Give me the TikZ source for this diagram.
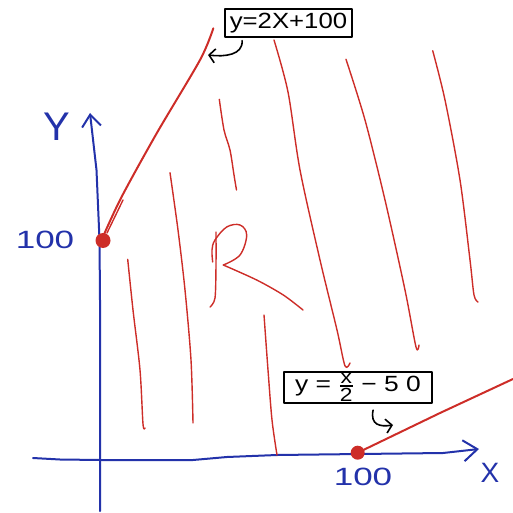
\documentclass[tikz,border=0pt]{standalone}
\usepackage{fontspec}
\setmainfont{Liberation Sans}
\usetikzlibrary{arrows.meta}
\definecolor{pen}{RGB}{35,50,170}
\definecolor{ink}{RGB}{205,45,40}
\begin{document}
\begin{tikzpicture}[x=1pt,y=-1pt, line cap=round, line join=round,
  axis/.style={draw=pen, line width=2pt},
  hatch/.style={draw=ink, line width=1.4pt},
  bound/.style={draw=ink, line width=2pt},
  lbl/.style={text=pen, inner sep=0pt},
  eqbox/.style={draw=black, line width=1.8pt, inner sep=0pt, fill=white},
  dot/.style={circle, fill=ink, minimum size=15pt, inner sep=0pt},
  callout/.style={draw=black, line width=1.6pt, -{Straight Barb[length=6pt,width=14pt]}}]
\useasboundingbox (0,0) rectangle (513,513);

% axes
\draw[axis, -{Straight Barb[length=12pt,width=19pt]}] (100,511) -- (100,300) -- (99.5,240) -- (96.5,170) -- (90,113);
\draw[axis, -{Straight Barb[length=14pt,width=21pt]}] (33,458) -- (60,459.5) -- (100,460) -- (193,460) -- (227,457) -- (277,455) -- (443,453) -- (479,449);

% axis labels
\node[lbl, font=\fontsize{40}{40}\selectfont] (ylab) at (57,127) {Y};
\node[lbl, font=\fontsize{28}{28}\selectfont] (xlab) at (490,473) {X};
\node[lbl, font=\fontsize{25}{25}\selectfont] (y100) at (45,240) {\scalebox{1.4}[1]{100}};
\node[lbl, font=\fontsize{25}{25}\selectfont] (x100) at (363,477) {\scalebox{1.4}[1]{100}};

% hatch lines
\draw[hatch] plot[smooth, tension=0.5] coordinates {(127.7,259.3) (133,310) (140,370) (143,424) (145,428)};
\draw[hatch] plot[smooth, tension=0.5] coordinates {(170,172.7) (178,230) (185,290) (191,360) (193,423)};
\draw[hatch] plot[smooth, tension=0.5] coordinates {(219.3,99.3) (224,130) (230,150) (234,175) (236.5,190)};
\draw[hatch] plot[smooth, tension=0.5] coordinates {(264,315) (268,370) (272,420) (277,455)};
\draw[hatch] plot[smooth, tension=0.5] coordinates {(274,40) (288,92) (300,170) (320,260) (337,330) (345,366) (350,363)};
\draw[hatch] plot[smooth, tension=0.5] coordinates {(346,59.3) (365,120) (385,200) (405,290) (416,347) (419,345)};
\draw[hatch] plot[smooth, tension=0.5] coordinates {(432.7,50.7) (445,100) (460,180) (470,260) (474,295) (478,302)};

% R
\draw[hatch] plot[smooth, tension=0.5] coordinates {(216,232) (216,265) (215,298) (210,307)};
\draw[hatch] plot[smooth, tension=0.6] coordinates {(212.7,262) (212,250) (215,240) (226.7,227) (240,225) (246.7,235) (240,255) (223.3,265)};
\draw[hatch] plot[smooth, tension=0.5] coordinates {(223.3,265) (256.7,280) (283.3,295) (303,310)};

% boundary lines and points
\node[dot] (d1) at (103,240.5) {};
\node[dot, minimum size=14pt] (d2) at (357.7,452.7) {};
\draw[bound] plot[smooth, tension=0.5] coordinates {(103.3,236) (121.7,196.7) (156.7,133.3) (200,60) (213.3,28.3)};
\draw[bound, line width=1.4pt] (107,233) -- (123,200);
\draw[bound] (d2.center) -- (440,413) -- (513,379);

% equation boxes
\node[eqbox, minimum width=127pt, minimum height=27.5pt, font=\fontsize{22}{22}\selectfont] (b1) at (288.5,23) {\scalebox{1.17}[1]{y=2X+100}};
\node[eqbox, minimum width=148pt, minimum height=31.5pt, font=\fontsize{22}{22}\selectfont] (b2) at (358,387.5)
  {\scalebox{1.2}[1]{y = ${\hbox{\fontsize{19}{19}\selectfont x}\above 1.6pt \hbox{\fontsize{19}{19}\selectfont 2}}$ − 5 0}};

% callout arrows
\coordinate (a1) at (208,55);
\coordinate (a2) at (393,425);
\draw[callout] ([xshift=18pt,yshift=-3pt]b1.south west) .. controls (243,55) and (225,57) .. (a1);
\draw[callout] ([xshift=90pt,yshift=-6pt]b2.south west) .. controls (370,425) and (380,427) .. (a2);
\end{tikzpicture}
\end{document}
